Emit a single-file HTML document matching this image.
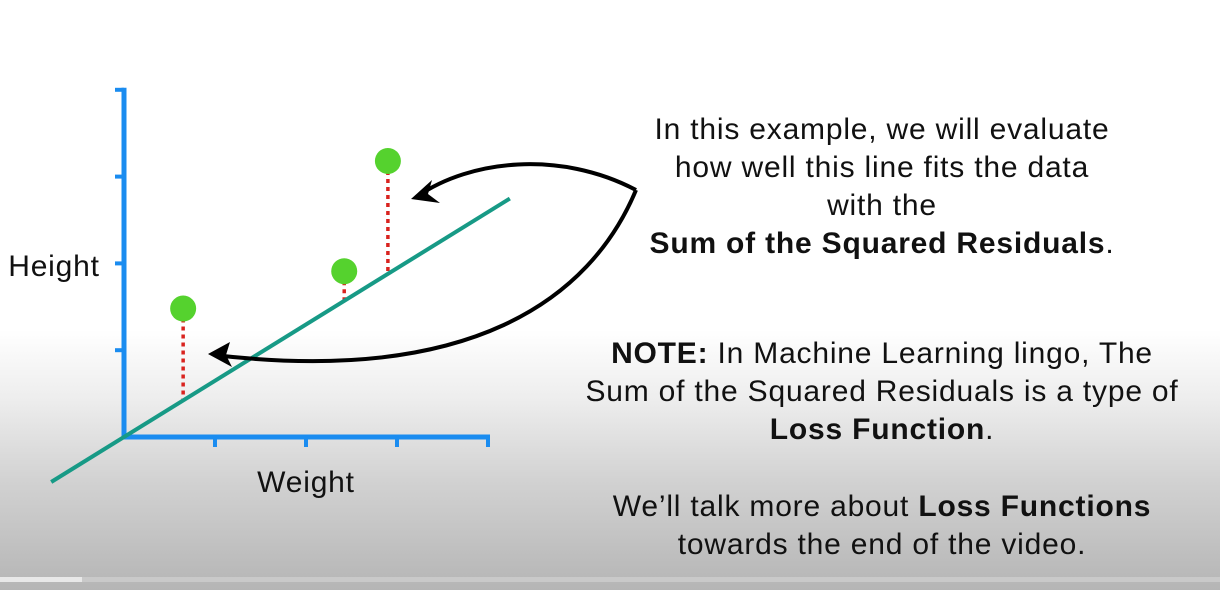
<!DOCTYPE html>
<html><head><meta charset="utf-8"><style>
html,body{margin:0;padding:0;}
body{width:1220px;height:590px;position:relative;overflow:hidden;font-family:"Liberation Sans",sans-serif;
background:linear-gradient(to bottom,#fff 0px,#fff 330px,#ededed 400px,#d2d2d2 480px,#bdbdbd 560px,#b5b5b5 590px);}
.t{position:absolute;left:530px;width:704px;text-align:center;color:#111;font-size:30px;letter-spacing:0.8px;line-height:38px;white-space:nowrap;}
b{font-weight:bold;}
</style></head><body>
<svg width="1220" height="590" style="position:absolute;left:0;top:0">
<g id="g"></g>
<text x="54" y="276" text-anchor="middle" font-size="30" letter-spacing="0.8" font-family="Liberation Sans" fill="#111">Height</text>
<text x="306" y="492" text-anchor="middle" font-size="30" letter-spacing="0.8" font-family="Liberation Sans" fill="#111">Weight</text>
<path d="M636,190 C560,150 470,160 418,196" fill="none" stroke="#000" stroke-width="4"/>
<polygon points="411,199 432,180 428,194 440,203" fill="#000"/>
<path d="M636,190 C590,300 470,385 214,355" fill="none" stroke="#000" stroke-width="4"/>
<polygon points="208,354 230,342 226,355 232,367" fill="#000"/>
<rect x="0" y="577" width="1220" height="5" fill="#c9c9c9"/>
<rect x="0" y="577" width="82" height="5" fill="#e8e8e8"/>
</svg>
<div class="t" style="top:111px">In this example, we will evaluate<br>how well this line fits the data<br>with the<br><b>Sum of the Squared Residuals</b>.</div>
<div class="t" style="top:335px"><b>NOTE:</b> In Machine Learning lingo, The<br>Sum of the Squared Residuals is a type of<br><b>Loss Function</b>.</div>
<div class="t" style="top:488px">We’ll talk more about <b>Loss Functions</b><br>towards the end of the video.</div>
<script>
const xs=[0.65,2.42,2.9];
const ys=[1.48,1.91,3.18];
const lineSlope=0.648;
const lineRange=[-0.8,4.24];
const xTicks=[1,2,3,4];
const yTicks=[1,2,3,4];
const X=v=>124+v*91, Y=v=>437-v*86.8;
const NS="http://www.w3.org/2000/svg", g=document.getElementById('g');
function mk(t,a){const e=document.createElementNS(NS,t);for(const k in a)e.setAttribute(k,a[k]);g.appendChild(e);return e;}
let e;
e=mk('line',{x1:X(0),y1:Y(0)+2,x2:X(0),y2:Y(4)-2,stroke:'#1a8cf0','stroke-width':5});


e=mk('line',{x1:X(0)-2,y1:Y(0),x2:X(4)+2,y2:Y(0),stroke:'#1a8cf0','stroke-width':5});


yTicks.forEach(v=>{e=mk('line',{x1:X(0)-9,y1:Y(v),x2:X(0),y2:Y(v),stroke:'#1a8cf0','stroke-width':4});

});
xTicks.forEach(v=>{e=mk('line',{x1:X(v),y1:Y(0),x2:X(v),y2:Y(0)+10,stroke:'#1a8cf0','stroke-width':4});

});
xs.forEach((x,i)=>{e=mk('line',{x1:X(x),y1:Y(ys[i])+10,x2:X(x),y2:Y(x*lineSlope),stroke:'#d9231f','stroke-width':3.5,'stroke-dasharray':'4 4'});

});
e=mk('line',{x1:X(lineRange[0]),y1:Y(lineRange[0]*lineSlope),x2:X(lineRange[1]),y2:Y(lineRange[1]*lineSlope),stroke:'#179a86','stroke-width':4});


xs.forEach((x,i)=>{e=mk('circle',{cx:X(x),cy:Y(ys[i]),r:13,fill:'#55d22e'});

});
</script>
</body></html>
